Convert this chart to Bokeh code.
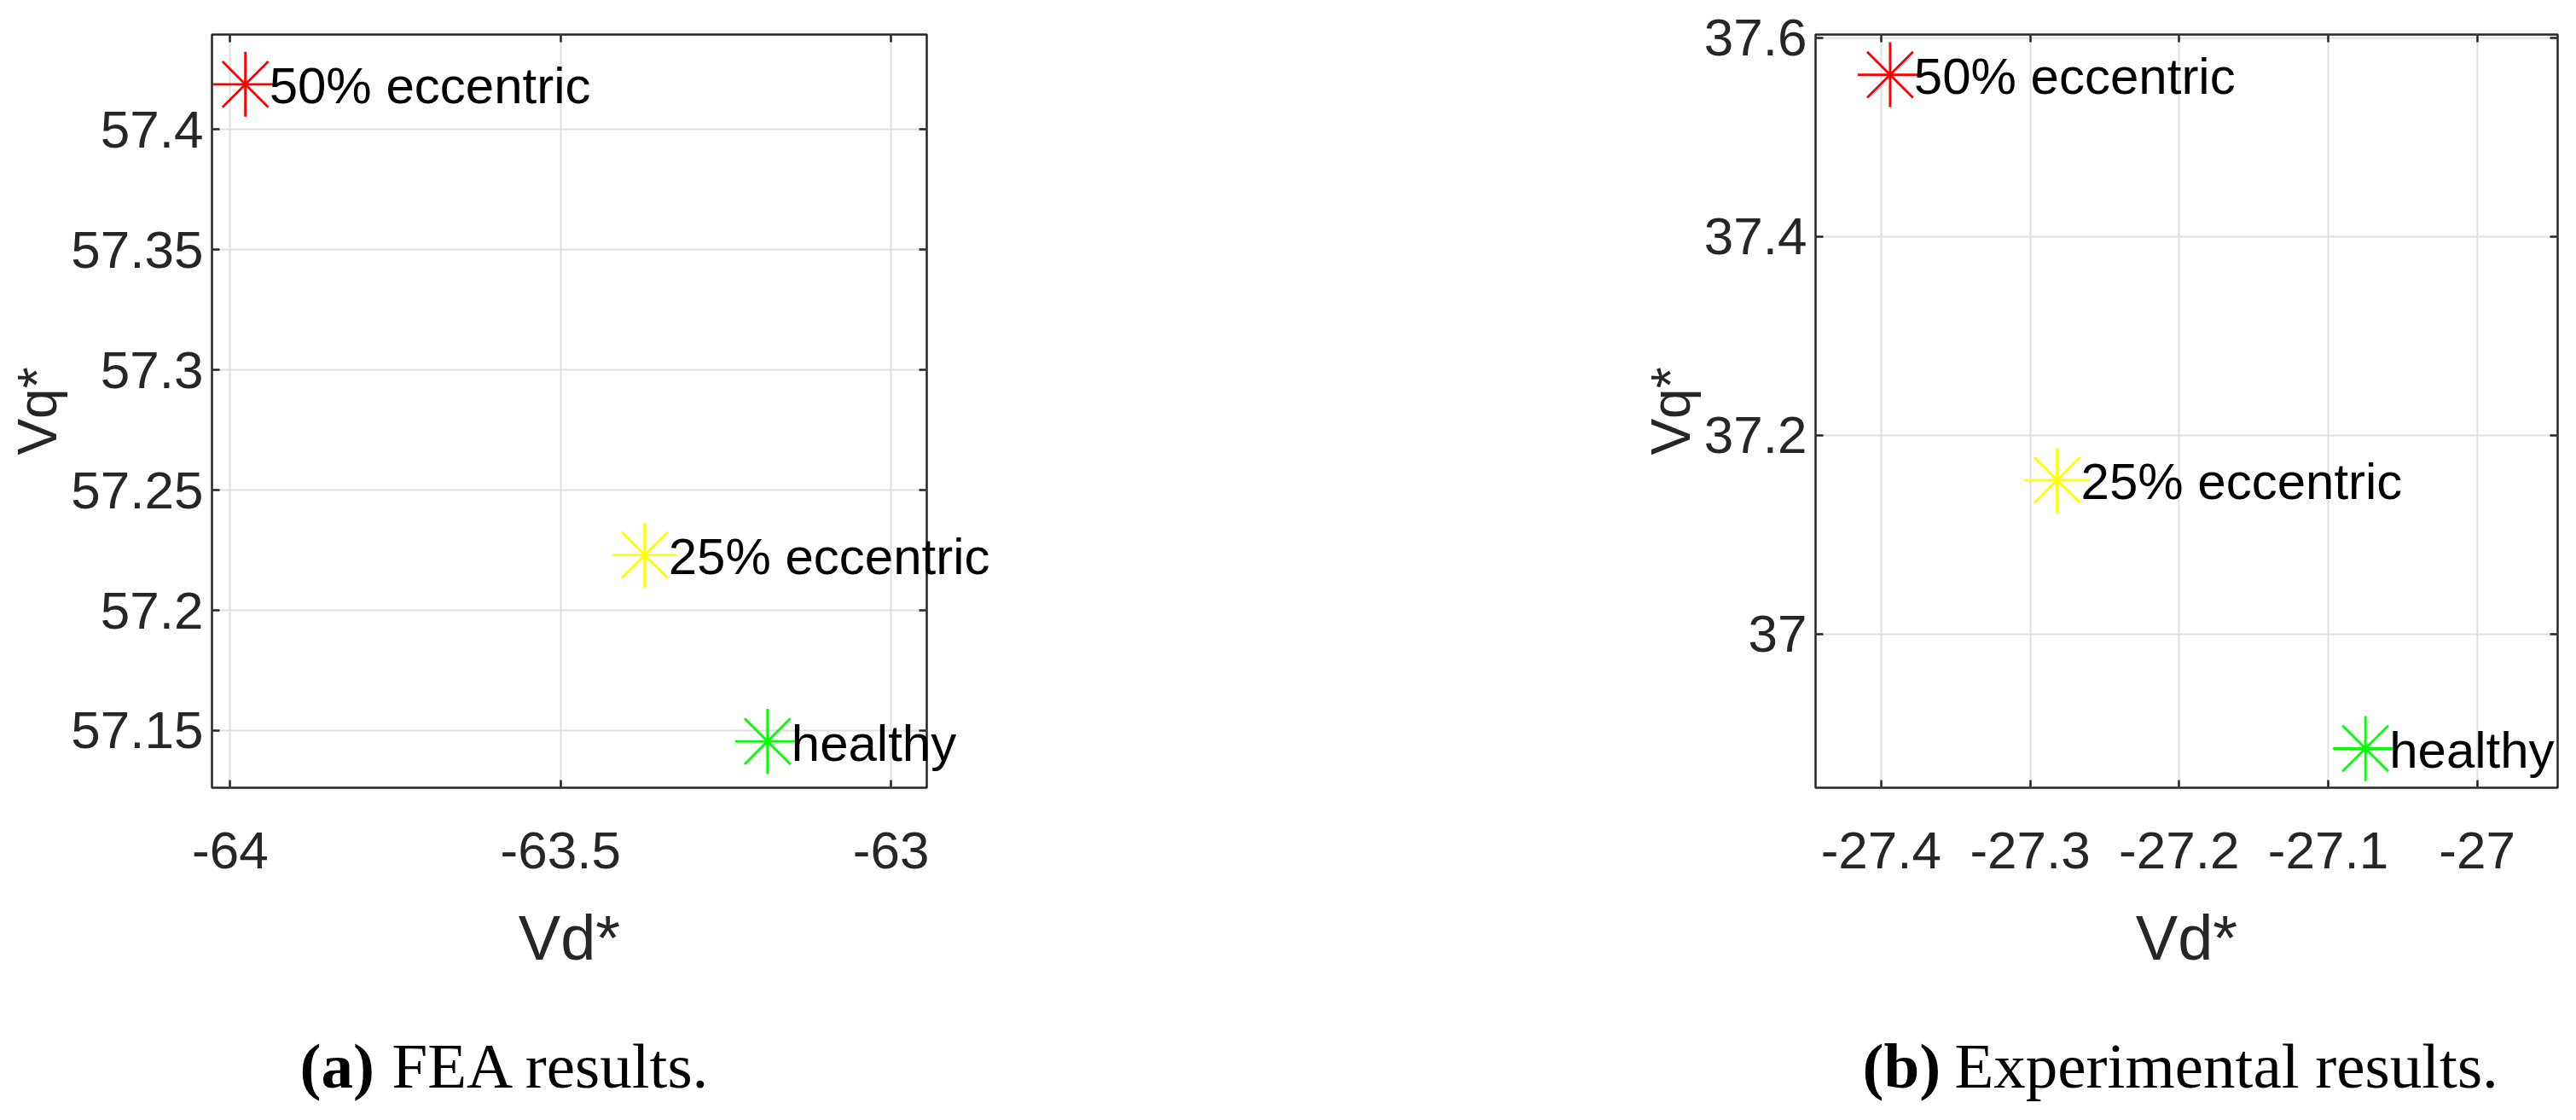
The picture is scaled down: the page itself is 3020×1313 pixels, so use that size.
from bokeh.plotting import figure
from bokeh.models import (FixedTicker, Range1d, LinearAxis, ColumnDataSource,
                          CustomJSTickFormatter)
from bokeh.layouts import row
from bokeh.embed import file_html
from bokeh.resources import INLINE
from bokeh.core.properties import value

# ---------------- data ----------------
labels = ["healthy", "25% eccentric", "50% eccentric"]
colors = ["#00FF00", "#FFFF00", "#FF0000"]

fea_vd = [-63.187, -63.373, -63.977]
fea_vq = [57.1455, 57.223, 57.4188]
exp_vd = [-27.075, -27.282, -27.394]
exp_vq = [36.885, 37.155, 37.563]

fea_xticks = [-64.0, -63.5, -63.0]
fea_xlabels = ["-64", "-63.5", "-63"]
fea_yticks = [57.15, 57.2, 57.25, 57.3, 57.35, 57.4]
fea_ylabels = ["57.15", "57.2", "57.25", "57.3", "57.35", "57.4"]
exp_xticks = [-27.4, -27.3, -27.2, -27.1, -27.0]
exp_xlabels = ["-27.4", "-27.3", "-27.2", "-27.1", "-27"]
exp_yticks = [37.0, 37.2, 37.4, 37.6]
exp_ylabels = ["37", "37.2", "37.4", "37.6"]

fea_xlim = (-64.0275, -62.946)
fea_ylim = (57.1262, 57.4395)
exp_xlim = (-27.444, -26.946)
exp_ylim = (36.8455, 37.6034)

x_title = "Vd*"
y_title = "Vq*"
cap_a = ("(a)", "FEA results.")
cap_b = ("(b)", "Experimental results.")

# ---------------- style ----------------
SANS = "Liberation Sans"
SERIF = "Liberation Serif"
DARK = "#262626"
GRID = "#dfdfdf"
TOP = 40
FRAME_H = 883
H = 1305
BOTTOM = H - TOP - FRAME_H
CAP_FS = 75
CAP_DY = 326          # caption centre below the frame bottom, px


def make(vd, vq, xlim, ylim, xt, xl, yt, yl, width, bl, br, cap, cap_dx):
    p = figure(width=width, height=H, x_range=Range1d(*xlim), y_range=Range1d(*ylim),
               output_backend="svg", toolbar_location=None,
               min_border_left=bl, min_border_right=br,
               min_border_top=TOP, min_border_bottom=BOTTOM,
               background_fill_color="white", border_fill_color="white")
    p.outline_line_color = DARK
    p.outline_line_width = 2.5
    p.outline_line_alpha = 1.0

    xa = p.xaxis[0]
    xa.ticker = FixedTicker(ticks=xt)
    xa.major_label_overrides = {t: s for t, s in zip(xt, xl)}
    ya = p.yaxis[0]
    ya.ticker = FixedTicker(ticks=yt)
    ya.major_label_overrides = {t: s for t, s in zip(yt, yl)}
    for ax in (xa, ya):
        ax.axis_line_color = None
        ax.major_tick_in = 9
        ax.major_tick_out = 0
        ax.major_tick_line_color = DARK
        ax.major_tick_line_width = 2.5
        ax.minor_tick_line_color = None
        ax.major_label_text_font = SANS
        ax.major_label_text_font_size = "62px"
        ax.major_label_text_color = DARK
        ax.axis_label_text_font = SANS
        ax.axis_label_text_font_style = "normal"
        ax.axis_label_text_color = DARK
    xa.major_label_standoff = 52
    ya.major_label_standoff = 10
    xa.axis_label = x_title
    xa.axis_label_text_font_size = "74px"
    xa.axis_label_standoff = 37
    ya.axis_label = y_title
    ya.axis_label_text_font_size = "64px"
    ya.axis_label_standoff = 0

    blank = CustomJSTickFormatter(code="return ''")
    top = LinearAxis(ticker=FixedTicker(ticks=xt), formatter=blank,
                     axis_line_color=None, major_tick_in=9, major_tick_out=0,
                     major_tick_line_color=DARK, major_tick_line_width=2.5,
                     minor_tick_line_color=None, major_label_standoff=0,
                     major_label_text_font_size="1px")
    right = LinearAxis(ticker=FixedTicker(ticks=yt), formatter=blank,
                       axis_line_color=None, major_tick_in=9, major_tick_out=0,
                       major_tick_line_color=DARK, major_tick_line_width=2.5,
                       minor_tick_line_color=None, major_label_standoff=0,
                       major_label_text_font_size="1px")
    p.add_layout(top, "above")
    p.add_layout(right, "right")

    p.xgrid.ticker = FixedTicker(ticks=xt)
    p.ygrid.ticker = FixedTicker(ticks=yt)
    p.grid.grid_line_color = GRID
    p.grid.grid_line_width = 2

    src = ColumnDataSource(dict(vd=vd, vq=vq, label=labels, color=colors))
    p.scatter(x="vd", y="vq", source=src, marker="asterisk", size=76,
              line_color="color", line_width=2.8)
    p.text(x="vd", y="vq", text="label", source=src, x_offset=28, y_offset=2,
           text_baseline="middle", text_align="left",
           text_font=value(SANS), text_font_size="60px", text_color="black",
           level="overlay")

    # caption, anchored at the frame's lower-left corner and offset in pixels
    csrc_a = ColumnDataSource(dict(x=[xlim[0]], y=[ylim[0]], t=[cap[0]]))
    csrc_b = ColumnDataSource(dict(x=[xlim[0]], y=[ylim[0]], t=[cap[1]]))
    p.text(x="x", y="y", text="t", source=csrc_a, x_offset=cap_dx, y_offset=CAP_DY,
           text_baseline="middle", text_align="left", text_font=value(SERIF),
           text_font_style="bold", text_font_size=f"{CAP_FS}px", text_color="black",
           level="overlay")
    p.text(x="x", y="y", text="t", source=csrc_b,
           x_offset=cap_dx + round(1.44 * CAP_FS), y_offset=CAP_DY,
           text_baseline="middle", text_align="left", text_font=value(SERIF),
           text_font_size=f"{CAP_FS}px", text_color="black", level="overlay")
    return p


p1 = make(fea_vd, fea_vq, fea_xlim, fea_ylim, fea_xticks, fea_xlabels, fea_yticks,
          fea_ylabels, 1500, 248, 414, cap_a, 103)
p2 = make(exp_vd, exp_vq, exp_xlim, exp_ylim, exp_xticks, exp_xlabels, exp_yticks,
          exp_ylabels, 1520, 628, 22, cap_b, 55)

layout = row(p1, p2, spacing=0)
open("out.html", "w").write(file_html(layout, INLINE))
